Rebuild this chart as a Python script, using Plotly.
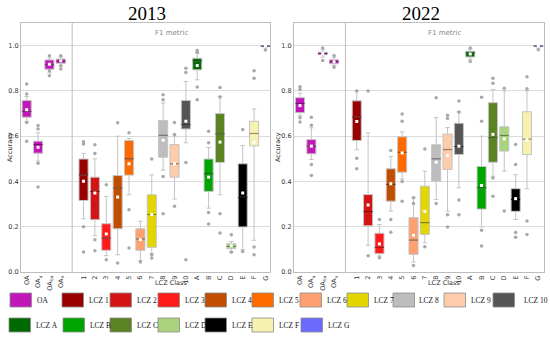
import plotly.graph_objects as go

# ---------------- data ----------------
CATS = ['OA', 'OA_u', 'OA_bu', 'OA_n', '1', '2', '3', '4', '5', '6', '7', '8', '9', '10',
        'A', 'B', 'C', 'D', 'E', 'F', 'G']
TICK_LABELS = ['OA', 'OA<sub>u</sub>', 'OA<sub>bu</sub>', 'OA<sub>n</sub>', '1', '2', '3', '4', '5',
               '6', '7', '8', '9', '10', 'A', 'B', 'C', 'D', 'E', 'F', 'G']
COLORS = ['#c217b8', '#990000', '#d41414', '#ff1a1a', '#c04d00', '#ff6a00', '#ffa070', '#e3d600',
          '#bdbdbd', '#ffcbaa', '#555555', '#006a00', '#00a400', '#5a8422', '#a9d37d', '#000000',
          '#f7f1b0', '#6a6aff']
LEGEND_LABELS = ['OA', 'LCZ 1', 'LCZ 2', 'LCZ 3', 'LCZ 4', 'LCZ 5', 'LCZ 6', 'LCZ 7', 'LCZ 8',
                 'LCZ 9', 'LCZ 10', 'LCZ A', 'LCZ B', 'LCZ C', 'LCZ D', 'LCZ E', 'LCZ F', 'LCZ G']

# 2013
q1_13 = [0.684, 0.525, 0.896, 0.922, 0.316, 0.231, 0.096, 0.191, 0.428, 0.096, 0.109, 0.507, 0.419,
         0.632, 0.893, 0.356, 0.484, 0.103, 0.199, 0.557, 0.996]
med_13 = [0.710, 0.563, 0.915, 0.931, 0.429, 0.356, 0.150, 0.371, 0.500, 0.146, 0.254, 0.604, 0.478,
          0.651, 0.933, 0.434, 0.610, 0.113, 0.330, 0.612, 0.998]
q3_13 = [0.758, 0.578, 0.937, 0.941, 0.499, 0.419, 0.213, 0.426, 0.581, 0.191, 0.341, 0.669, 0.563,
         0.758, 0.944, 0.499, 0.700, 0.125, 0.478, 0.666, 1.000]
lo_13 = [0.665, 0.490, 0.880, 0.910, 0.235, 0.160, 0.072, 0.076, 0.341, 0.051, 0.081, 0.450, 0.322,
         0.571, 0.849, 0.282, 0.341, 0.091, 0.099, 0.140, 0.990]
hi_13 = [0.775, 0.615, 0.945, 0.950, 0.524, 0.500, 0.334, 0.600, 0.590, 0.224, 0.429, 0.747, 0.600,
         0.842, 0.966, 0.550, 0.776, 0.135, 0.559, 0.720, 1.000]
mean_13 = [0.717, 0.551, 0.918, 0.933, 0.401, 0.349, 0.168, 0.331, 0.478, 0.143, 0.254, 0.582, 0.478,
           0.666, 0.912, 0.419, 0.574, 0.116, 0.349, 0.574, 0.998]
out_13 = [[0.83, 0.786, 0.66, 0.578], [0.647, 0.632, 0.48, 0.376], [0.955, 0.889, 0.867],
          [0.955, 0.911, 0.897], [0.575, 0.565, 0.2, 0.088], [0.562, 0.524, 0.143, 0.094],
          [0.385, 0.054], [0.659, 0.04], [0.615, 0.275, 0.106], [0.044], [0.499, 0.076, 0.062],
          [0.783, 0.761, 0.422, 0.257], [0.66, 0.607, 0.29], [0.9, 0.881, 0.484, 0.054],
          [0.978, 0.971, 0.817, 0.761], [0.622, 0.571, 0.263, 0.212], [0.815, 0.773, 0.257, 0.172],
          [0.165, 0.087], [0.629, 0.091], [0.889, 0.856, 0.11, 0.076], [0.981]]

# 2022
q1_22 = [0.704, 0.522, 0.960, 0.920, 0.581, 0.204, 0.081, 0.313, 0.441, 0.078, 0.166, 0.401, 0.453,
         0.519, 0.950, 0.278, 0.485, 0.534, 0.268, 0.519, 0.996]
med_22 = [0.744, 0.556, 0.965, 0.929, 0.684, 0.267, 0.109, 0.387, 0.529, 0.141, 0.218, 0.500, 0.541,
          0.554, 0.968, 0.372, 0.593, 0.603, 0.320, 0.587, 0.998]
q3_22 = [0.770, 0.585, 0.971, 0.938, 0.756, 0.342, 0.171, 0.456, 0.597, 0.240, 0.379, 0.562, 0.609,
         0.657, 0.975, 0.466, 0.748, 0.642, 0.368, 0.708, 1.000]
lo_22 = [0.690, 0.497, 0.949, 0.912, 0.540, 0.118, 0.071, 0.269, 0.410, 0.044, 0.129, 0.320, 0.269,
         0.372, 0.940, 0.199, 0.423, 0.446, 0.232, 0.368, 0.990]
hi_22 = [0.790, 0.637, 0.982, 0.948, 0.800, 0.615, 0.210, 0.510, 0.619, 0.330, 0.445, 0.682, 0.638,
         0.707, 0.985, 0.600, 0.806, 0.800, 0.430, 0.800, 1.000]
mean_22 = [0.735, 0.556, 0.965, 0.929, 0.665, 0.296, 0.124, 0.390, 0.526, 0.162, 0.268, 0.485, 0.515,
           0.556, 0.963, 0.382, 0.608, 0.588, 0.324, 0.585, 0.998]
out_22 = [[0.818, 0.806, 0.681, 0.663], [0.684, 0.648, 0.475, 0.426], [0.99, 0.934], [0.956, 0.905],
          [0.8, 0.503, 0.456], [0.8, 0.072], [0.232, 0.063], [0.537, 0.232, 0.176],
          [0.698, 0.666, 0.4, 0.312], [0.328, 0.303, 0.029], [0.543, 0.112], [0.77, 0.303],
          [0.692, 0.678, 0.253, 0.199], [0.755, 0.707, 0.318, 0.253], [0.99, 0.93],
          [0.772, 0.666, 0.184, 0.115], [0.856, 0.834, 0.415, 0.335], [0.812, 0.269],
          [0.563, 0.475, 0.174, 0.154], [0.862, 0.809, 0.225, 0.166], [0.982]]

# ---------------- layout helpers ----------------
W, H = 550, 337
POS = list(range(4)) + list(range(5, 22))
BOX_W = 0.8
GRAY = '#c4c4c4'


def box_color(i):
    return COLORS[0] if i < 4 else COLORS[i - 3]


def darker(hexc, f=0.6):
    h = hexc.lstrip('#')
    r, g, b = (int(h[k:k + 2], 16) for k in (0, 2, 4))
    return 'rgb(%d,%d,%d)' % (r * f, g * f, b * f)


fig = go.Figure()


def add_panel(xa, ya, q1, med, q3, lo, hi, mean, outs):
    for i, p in enumerate(POS):
        c = box_color(i)
        fig.add_trace(go.Box(x=[p], q1=[q1[i]], median=[med[i]], q3=[q3[i]],
                             lowerfence=[lo[i]], upperfence=[hi[i]], width=BOX_W,
                             fillcolor=c, line=dict(color=GRAY, width=1), whiskerwidth=0.5,
                             boxpoints=False, xaxis=xa, yaxis=ya, showlegend=False,
                             hoverinfo='skip'))
        fig.add_trace(go.Scatter(x=[p - BOX_W / 2, p + BOX_W / 2], y=[med[i], med[i]],
                                 mode='lines', line=dict(color=darker(c), width=1.2),
                                 xaxis=xa, yaxis=ya, showlegend=False, hoverinfo='skip'))
    ox, oy = [], []
    for i, p in enumerate(POS):
        for v in outs[i]:
            ox.append(p)
            oy.append(v)
    fig.add_trace(go.Scatter(x=ox, y=oy, mode='markers',
                             marker=dict(symbol='circle', size=3.5, color='#a8a8a8'),
                             xaxis=xa, yaxis=ya, showlegend=False, hoverinfo='skip'))
    fig.add_trace(go.Scatter(x=POS, y=mean, mode='markers',
                             marker=dict(symbol='square', size=3, color='white'),
                             xaxis=xa, yaxis=ya, showlegend=False, hoverinfo='skip'))


add_panel('x', 'y', q1_13, med_13, q3_13, lo_13, hi_13, mean_13, out_13)
add_panel('x2', 'y2', q1_22, med_22, q3_22, lo_22, hi_22, mean_22, out_22)

ydom = [1 - 272 / H, 1 - 23 / H]
axis_common = dict(showline=True, mirror=True, linecolor='#bdbdbd', linewidth=1, ticks='',
                   zeroline=False, automargin=False)
xcommon = dict(axis_common, showgrid=False, tickmode='array', tickvals=POS, ticktext=TICK_LABELS,
               tickangle=-90, tickfont=dict(family='DejaVu Sans', size=6.5, color='#333'))
ycommon = dict(axis_common, range=[0, 1.1], showgrid=True, gridcolor='#dcdcdc', gridwidth=1,
               tickvals=[0, 0.2, 0.4, 0.6, 0.8, 1.0], tickformat='.1f', domain=ydom,
               tickfont=dict(family='DejaVu Sans', size=6.5, color='#333'))

fig.update_layout(
    width=W, height=H, margin=dict(l=0, r=0, t=0, b=0, autoexpand=False),
    paper_bgcolor='white', plot_bgcolor='white', boxmode='overlay', showlegend=False,
    xaxis=dict(xcommon, domain=[21 / W, 270 / W], range=[-0.5, 21.4], anchor='y'),
    yaxis=dict(ycommon, anchor='x'),
    xaxis2=dict(xcommon, domain=[294 / W, 544 / W], range=[-0.53, 21.5], anchor='y2'),
    yaxis2=dict(ycommon, anchor='x2'),
)

shapes = []
annotations = []
for xa, ya, title, cx, yl_x in [('x', 'y', '2013', 147, 4), ('x2', 'y2', '2022', 421, 278)]:
    shapes.append(dict(type='line', xref=xa, yref=ya + ' domain', x0=4, x1=4, y0=0, y1=1,
                       line=dict(color='#bdbdbd', width=1)))
    annotations.append(dict(xref=xa, yref=ya, x=12.7, y=1.055, text='F1 metric', showarrow=False,
                            font=dict(family='DejaVu Sans', size=7, color='#888')))
    annotations.append(dict(xref='paper', yref='paper', x=cx / W, y=1 - 0.5 / H, text=title,
                            showarrow=False, xanchor='center', yanchor='top',
                            font=dict(family='Liberation Serif', size=19, color='black')))
    annotations.append(dict(xref=xa, yref='paper', x=12.7, y=1 - 289 / H, text='LCZ Class',
                            showarrow=False,
                            font=dict(family='DejaVu Sans', size=6.5, color='#333')))
    annotations.append(dict(xref='paper', yref='paper', x=yl_x / W, y=1 - 147 / H,
                            text='Accuracy', textangle=-90, showarrow=False,
                            font=dict(family='DejaVu Sans', size=6.5, color='#333')))

# legend drawn as swatches + labels
row1_x = [10, 62, 110, 158, 205, 252, 300, 347, 393, 444, 493]
row2_x = [9, 63, 110, 158, 205, 252, 301]
items = [(row1_x[k], 300, k) for k in range(11)] + [(row2_x[k], 325, 11 + k) for k in range(7)]
for x0, yc, k in items:
    shapes.append(dict(type='rect', xref='paper', yref='paper', x0=x0 / W, x1=(x0 + 21.5) / W,
                       y0=1 - (yc + 7) / H, y1=1 - (yc - 7) / H, fillcolor=COLORS[k],
                       line=dict(color='#8a8a8a', width=0.8)))
    lx = x0 + 24.5 if k != 10 else x0 + 29
    annotations.append(dict(xref='paper', yref='paper', x=lx / W, y=1 - yc / H,
                            xanchor='left', yanchor='middle', text=LEGEND_LABELS[k],
                            showarrow=False,
                            font=dict(family='Liberation Serif', size=7.5, color='#111')))

fig.update_layout(shapes=shapes, annotations=annotations)
fig.write_html('out.html', config={'displayModeBar': False},
               post_script="document.body.style.margin='0';document.body.style.padding='0';"
                           "document.body.style.overflow='hidden';")
